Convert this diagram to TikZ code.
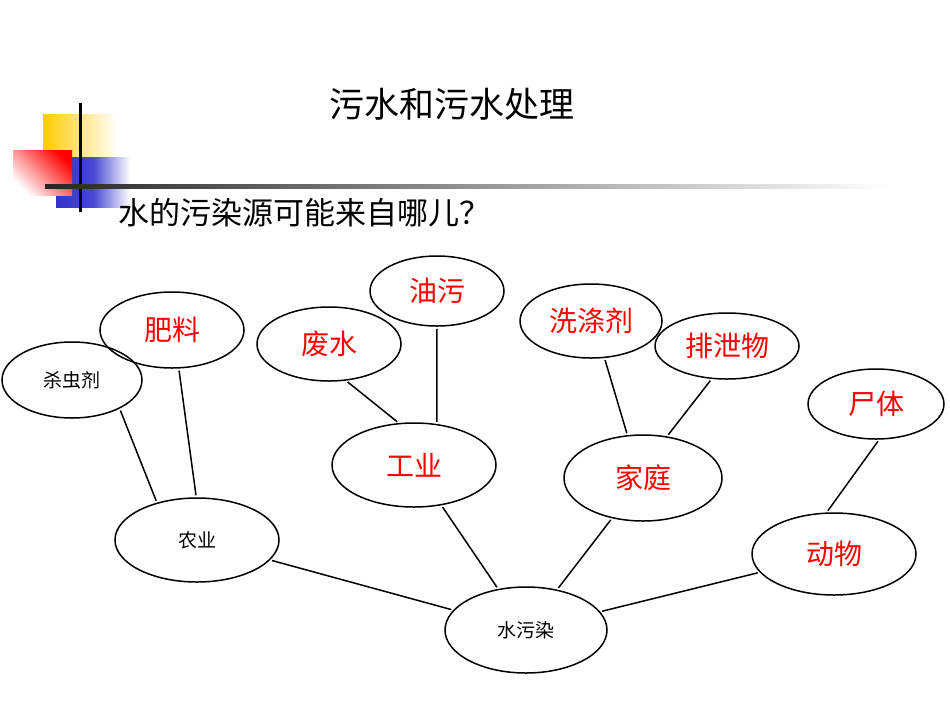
\documentclass[tikz,border=0pt]{standalone}
\usepackage{fontspec}
\newfontfamily\cjk{Noto Sans CJK SC}
\usetikzlibrary{shapes.geometric}
\definecolor{yel}{RGB}{255,204,0}
\definecolor{blu}{RGB}{51,51,204}
\tikzset{every picture/.style={line width=1.5pt}}
\tikzset{
  bub/.style={draw, ellipse, inner sep=0pt, font=\cjk},
  red text/.style={text=red, font=\cjk\fontsize{28}{28}\selectfont},
  blk text/.style={font=\cjk\fontsize{19}{19}\selectfont},
  link/.style={line width=1.5pt, shorten <=2pt, shorten >=2pt}
}
\begin{document}
\begin{tikzpicture}[x=1pt,y=1pt,yscale=-1]
\useasboundingbox (0,0) rectangle (950,713);
% decoration
\shade[left color=yel, right color=white] (43,114) rectangle (117,157);
\shade[left color=blu, right color=white, middle color=blu!90] (56,157) rectangle (130,207);
\shade[bottom color=white, top color=red, shading angle=-45] (13,150) rectangle (72,195);
\draw[line width=3pt] (80,103) -- (80,212);
\shade[left color=black!85, right color=white] (45,184.5) rectangle (890,188);
% titles
\node[font=\cjk\fontsize{35}{35}\selectfont] (title) at (452,104) {污水和污水处理};
\node[font=\cjk\fontsize{31}{31}\selectfont, anchor=west] (quest) at (114,213) {水的污染源可能来自哪儿？};
% bubbles
\node[bub, blk text, minimum width=140, minimum height=76] (shachong) at (72,380) {杀虫剂};
\node[bub, red text, minimum width=144, minimum height=76] (feiliao) at (172,330) {肥料};
\node[bub, red text, minimum width=144, minimum height=74] (feishui) at (329,344) {废水};
\node[bub, red text, minimum width=134, minimum height=70] (youwu) at (437,291) {油污};
\node[bub, red text, minimum width=142, minimum height=74] (xidi) at (591,321) {洗涤剂};
\node[bub, red text, minimum width=144, minimum height=66] (paixie) at (727,346) {排泄物};
\node[bub, red text, minimum width=136, minimum height=70] (shiti) at (876,404) {尸体};
\node[bub, red text, minimum width=164, minimum height=84] (gongye) at (414,465) {工业};
\node[bub, red text, minimum width=158, minimum height=86] (jiating) at (643,478) {家庭};
\node[bub, blk text, minimum width=164, minimum height=84] (nongye) at (197,540) {农业};
\node[bub, red text, minimum width=164, minimum height=82] (dongwu) at (834,554) {动物};
\node[bub, blk text, minimum width=162, minimum height=86] (shuiwu) at (526,630) {水污染};
% links
\draw[link] (shachong.-31) -- (nongye.137);
\draw[link] (feiliao.-80) -- (nongye.91);
\draw[link] (feishui.-65) -- (gongye.110);
\draw[link] (youwu.-90) -- (gongye.61);
\draw[link] (xidi.-70) -- (jiating.110);
\draw[link] (paixie.-115) -- (jiating.60);
\draw[link] (shiti.-85) -- (dongwu.100);
\draw[link] (nongye) -- (shuiwu);
\draw[link] (gongye) -- (shuiwu);
\draw[link] (jiating) -- (shuiwu);
\draw[link] (dongwu) -- (shuiwu);
\end{tikzpicture}
\end{document}
